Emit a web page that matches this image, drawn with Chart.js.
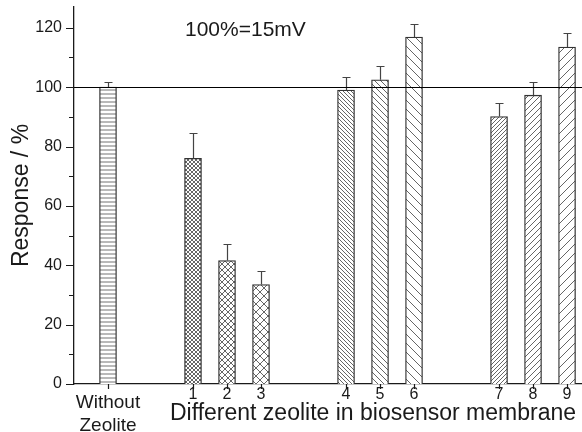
<!DOCTYPE html>
<html>
<head>
<meta charset="utf-8">
<script src="https://cdn.jsdelivr.net/npm/chart.js@4"></script>
<style>
  html, body { margin: 0; padding: 0; background: #fff; }
  #wrap { width: 582px; height: 432px; }
</style>
</head>
<body>
<div id="wrap"><canvas id="graph" width="582" height="432"></canvas></div>
<script>
// data
const tickLabels = [['Without', 'Zeolite'], '1', '2', '3', '4', '5', '6', '7', '8', '9']
const xPositions = [0, 2.5, 3.5, 4.5, 7, 8, 9, 11.5, 12.5, 13.5]
const responses  = [100, 76, 41.6, 33.5, 99, 102.5, 116.9, 90.1, 97.3, 113.5]
const errors     = [1.9, 8.5, 5.5, 4.4, 4.3, 4.5, 4.5, 4.4, 4.5, 4.6]
const yTicks     = [0, 20, 40, 60, 80, 100, 120]
const refLevel   = 100

// hatch style for each bar: kind + tile size
const hatchKinds = ['h', 'x', 'x', 'x', 'b', 'b', 'b', 's', 's', 's']
const hatchSizes = [4, 4, 6, 8, 4, 6, 9, 4, 6, 9]

const ink = '#1a1a1a'
const font = "'Liberation Sans', Arial, sans-serif"

function makeHatch(kind, s) {
    const c = document.createElement('canvas')
    c.width = s; c.height = s
    const g = c.getContext('2d')
    g.fillStyle = '#fff'
    g.fillRect(0, 0, s, s)
    g.strokeStyle = kind === 'h' ? '#8a8a8a' : '#555'
    g.lineWidth = kind === 'h' ? 1.2 : 0.9
    g.beginPath()
    if (kind === 'h') {
        g.moveTo(0, s / 2); g.lineTo(s, s / 2)
    }
    for (let k = -1; k <= 1; k++) {
        if (kind === 'b' || kind === 'x') { g.moveTo(k * s, 0); g.lineTo(k * s + s, s) }
        if (kind === 's' || kind === 'x') { g.moveTo(k * s, s); g.lineTo(k * s + s, 0) }
    }
    g.stroke()
    return g.createPattern(c, 'repeat')
}

const extras = {
    id: 'extras',
    afterDatasetsDraw(chart) {
        const ctx = chart.ctx
        const xs = chart.scales.x, ys = chart.scales.y
        const area = chart.chartArea
        ctx.save()
        // error bars (upper half only)
        ctx.strokeStyle = '#444'
        ctx.lineWidth = 1.2
        xPositions.forEach((xv, i) => {
            const px = Math.round(xs.getPixelForValue(xv)) + 0.5
            const top = ys.getPixelForValue(responses[i])
            const et = Math.round(ys.getPixelForValue(responses[i] + errors[i])) + 0.5
            ctx.beginPath()
            ctx.moveTo(px, top); ctx.lineTo(px, et)
            ctx.moveTo(px - 4, et); ctx.lineTo(px + 4, et)
            ctx.stroke()
        })
        // 100 % reference line
        const yr = Math.round(ys.getPixelForValue(refLevel)) + 0.5
        ctx.strokeStyle = '#000'
        ctx.lineWidth = 1.2
        ctx.beginPath()
        ctx.moveTo(area.left, yr); ctx.lineTo(chart.width, yr)
        ctx.stroke()
        // y ticks, major and minor, pointing outwards
        ctx.strokeStyle = ink
        ctx.lineWidth = 1.2
        ctx.beginPath()
        for (let v = 0; v <= ys.max; v += 10) {
            const py = Math.round(ys.getPixelForValue(v)) + 0.5
            const len = v % 20 === 0 ? 8 : 5
            ctx.moveTo(area.left - len, py); ctx.lineTo(area.left, py)
        }
        // x ticks
        xPositions.forEach(xv => {
            const px = Math.round(xs.getPixelForValue(xv)) + 0.5
            ctx.moveTo(px, area.bottom); ctx.lineTo(px, area.bottom + 5)
        })
        ctx.stroke()
        // note and x axis title
        ctx.fillStyle = ink
        ctx.textBaseline = 'alphabetic'
        ctx.textAlign = 'left'
        ctx.font = '21px ' + font
        ctx.fillText('100%=15mV', 185, 36)
        ctx.textAlign = 'center'
        ctx.textBaseline = 'middle'
        ctx.font = '23px ' + font
        ctx.fillText('Different zeolite in biosensor membrane', 373, 414)
        ctx.restore()
    }
}

const ctx = document.getElementById('graph')
new Chart(ctx, {
    type: 'bar',
    data: {
        datasets: [{
            data: xPositions.map((x, i) => ({x: x, y: responses[i]})),
            backgroundColor: hatchKinds.map((k, i) => makeHatch(k, hatchSizes[i])),
            borderColor: '#333',
            borderWidth: 1.3,
            barThickness: 17
        }]
    },
    options: {
        responsive: false,
        animation: false,
        layout: { padding: { top: 7, right: 0, left: 0, bottom: 0 } },
        plugins: {
            legend: { display: false },
            tooltip: { enabled: false }
        },
        scales: {
            x: {
                type: 'linear',
                offset: false,
                min: -1,
                max: 13.94,
                grid: { display: false },
                border: { display: true, color: ink, width: 1.3 },
                afterFit: s => { s.height = 48; s.paddingLeft = 0; s.paddingRight = 0 },
                afterBuildTicks: s => { s.ticks = xPositions.map(v => ({value: v})) },
                ticks: {
                    autoSkip: false,
                    maxRotation: 0,
                    padding: -1,
                    color: ink,
                    font: c => c.index === 0
                        ? {family: font, size: 19, lineHeight: '23.5px'}
                        : {family: font, size: 16, lineHeight: '7.5px'},
                    callback: (v, i) => tickLabels[i]
                }
            },
            y: {
                min: 0,
                max: 127,
                grid: { display: false },
                border: { display: true, color: ink, width: 1.3 },
                afterFit: s => { s.width = 74; s.paddingTop = 0; s.paddingBottom = 0 },
                afterBuildTicks: s => { s.ticks = yTicks.map(v => ({value: v})) },
                ticks: {
                    padding: 4,
                    color: ink,
                    font: {family: font, size: 16}
                },
                title: {
                    display: true,
                    text: 'Response / %',
                    color: ink,
                    padding: {top: 8, bottom: 0},
                    font: {family: font, size: 23}
                }
            }
        }
    },
    plugins: [extras]
});
</script>
</body>
</html>
